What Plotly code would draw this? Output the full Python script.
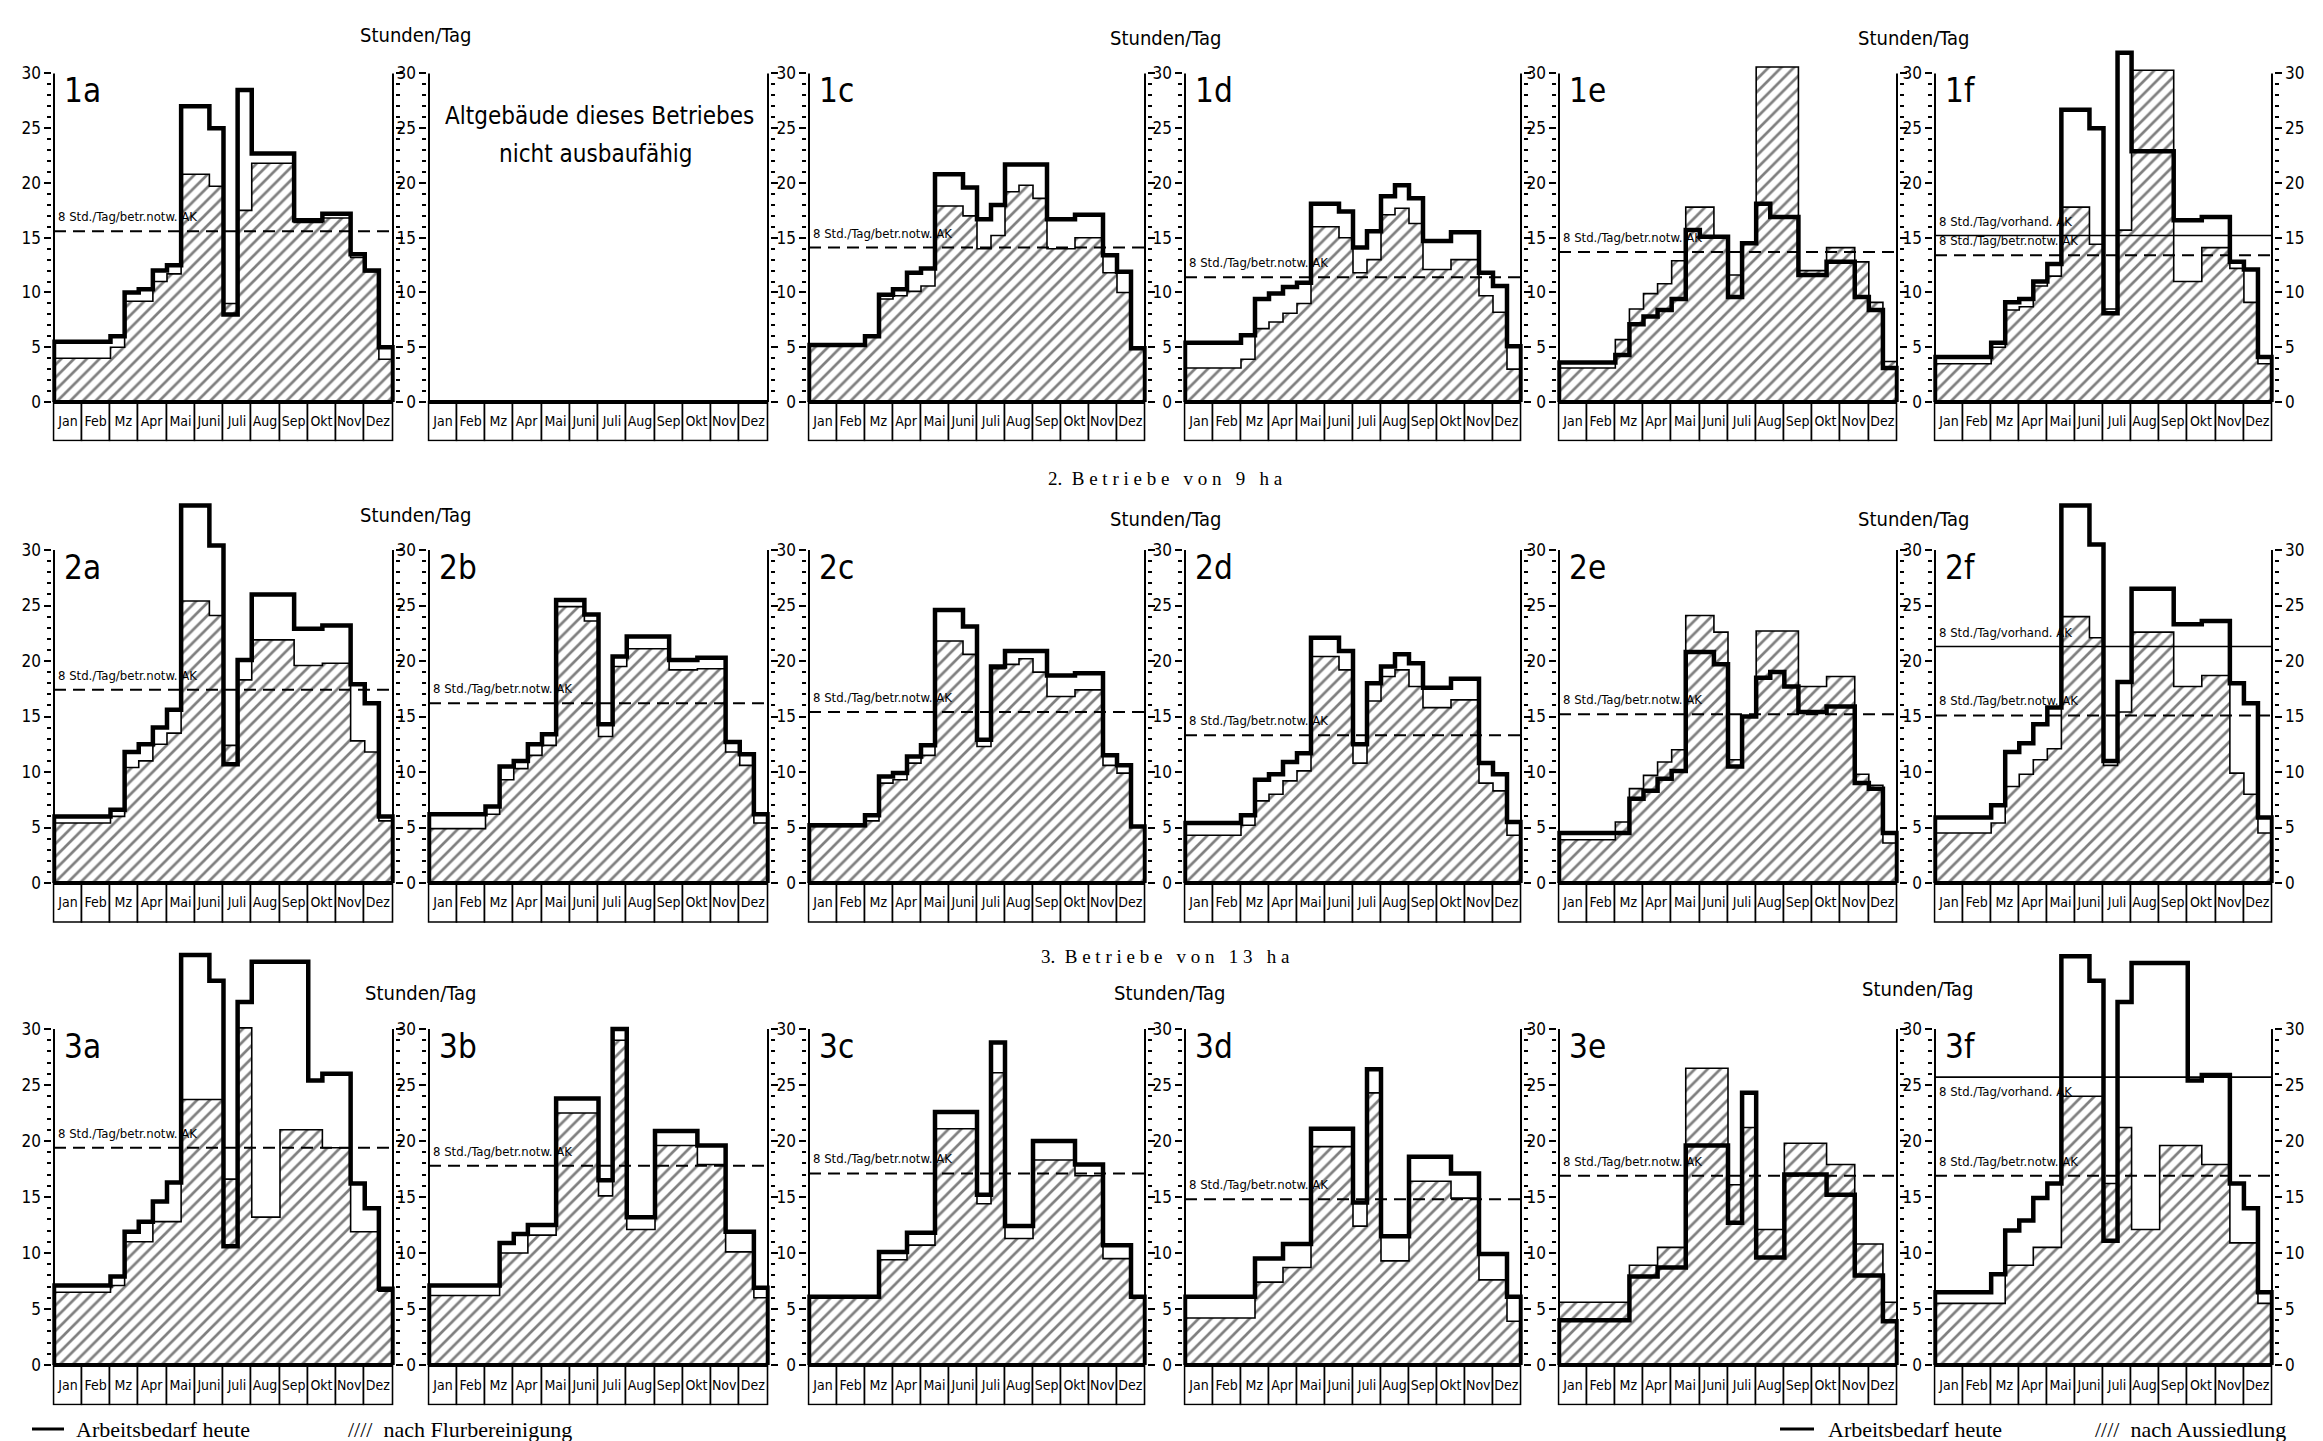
import plotly.graph_objects as go

# ---------------------------------------------------------------- data
MONTHS = ["Jan", "Feb", "Mz", "Apr", "Mai", "Juni", "Juli", "Aug", "Sep", "Okt", "Nov", "Dez"]
PANEL_IDS = ["1a", "1b", "1c", "1d", "1e", "1f",
             "2a", "2b", "2c", "2d", "2e", "2f",
             "3a", "3b", "3c", "3d", "3e", "3f"]

# Stunden/Tag per half month (Jan 1st half ... Dez 2nd half)
heute_1a = [5.5, 5.5, 5.5, 5.5, 6, 10, 10.3, 12, 12.5, 27, 27, 25, 8, 28.5, 22.7, 22.7, 22.7, 16.6, 16.6, 17.2, 17.2, 13.5, 12, 5]
nach_1a = [4, 4, 4, 4, 5, 9.2, 9.2, 11, 11.7, 20.8, 20.8, 19.7, 9, 17.5, 21.8, 21.8, 21.8, 16.4, 16.4, 16.8, 16.8, 13.2, 11.9, 3.9]
heute_1c = [5.2, 5.2, 5.2, 5.2, 6, 9.8, 10.3, 11.8, 12.2, 20.8, 20.8, 19.6, 16.7, 18, 21.7, 21.7, 21.7, 16.7, 16.7, 17.1, 17.1, 13.4, 11.9, 4.9]
nach_1c = [5.2, 5.2, 5.2, 5.2, 6, 9.4, 9.7, 10.1, 10.6, 17.9, 17.9, 17, 14, 15.2, 19.2, 19.8, 18.6, 14, 14, 15, 15, 11.8, 10, 4.9]
heute_1d = [5.4, 5.4, 5.4, 5.4, 6.1, 9.4, 9.9, 10.5, 10.9, 18.1, 18.1, 17.4, 14.1, 15.6, 18.8, 19.8, 18.6, 14.7, 14.7, 15.5, 15.5, 11.8, 10.6, 5.1]
nach_1d = [3.1, 3.1, 3.1, 3.1, 3.9, 6.7, 7.3, 8.1, 9, 16, 16, 15, 11.8, 13, 17.1, 17.7, 16.3, 12.1, 12.1, 13, 13, 9.7, 8.2, 3]
heute_1e = [3.6, 3.6, 3.6, 3.6, 4.3, 7.1, 7.8, 8.4, 9.4, 15.7, 15.1, 15.1, 9.6, 14.5, 18.1, 16.9, 16.9, 11.6, 11.6, 12.8, 12.8, 9.6, 8.4, 3.1]
nach_1e = [3.1, 3.1, 3.1, 3.1, 5.7, 8.5, 9.9, 10.8, 12.9, 17.8, 17.8, 15.1, 11.6, 14.5, 30.6, 30.6, 30.6, 12, 12, 14.1, 14.1, 12.8, 9.1, 3.7]
heute_1f = [4.1, 4.1, 4.1, 4.1, 5.4, 9.1, 9.4, 11, 12.6, 26.7, 26.7, 25, 8.1, 31.9, 22.9, 22.9, 22.9, 16.6, 16.6, 16.9, 16.9, 12.8, 12.1, 4.1]
nach_1f = [3.5, 3.5, 3.5, 3.5, 5, 8.4, 8.7, 10.6, 11.5, 17.8, 17.8, 14.4, 8.5, 15.7, 30.3, 30.3, 30.3, 11, 11, 14.1, 14.1, 12.2, 9.1, 3.5]

heute_2a = [6, 6, 6, 6, 6.6, 11.8, 12.5, 14, 15.6, 34, 34, 30.4, 10.7, 20.1, 26, 26, 26, 22.9, 22.9, 23.2, 23.2, 17.9, 16.2, 6]
nach_2a = [5.4, 5.4, 5.4, 5.4, 6, 10.4, 11, 12.5, 13.5, 25.4, 25.4, 24.1, 12.4, 18.3, 21.9, 21.9, 21.9, 19.6, 19.6, 19.8, 19.8, 12.8, 11.8, 5.6]
heute_2b = [6.2, 6.2, 6.2, 6.2, 6.9, 10.5, 11, 12.5, 13.4, 25.5, 25.5, 24.2, 14.3, 20.4, 22.2, 22.2, 22.2, 20.1, 20.1, 20.3, 20.3, 12.7, 11.6, 6.2]
nach_2b = [4.9, 4.9, 4.9, 4.9, 6.2, 9.3, 10.3, 11.5, 12.4, 24.9, 24.9, 23.6, 13.2, 19.5, 21.1, 21.1, 21.1, 19.2, 19.2, 19.3, 19.3, 11.8, 10.6, 5.4]
heute_2c = [5.2, 5.2, 5.2, 5.2, 6.1, 9.6, 9.9, 11.4, 12.4, 24.6, 24.6, 23.1, 12.9, 19.5, 20.9, 20.9, 20.9, 18.7, 18.7, 18.9, 18.9, 11.5, 10.6, 5.1]
nach_2c = [5.1, 5.1, 5.1, 5.1, 5.6, 9, 9.3, 10.8, 11.5, 21.8, 21.8, 20.6, 12.3, 19.3, 19.7, 20.2, 19, 16.8, 16.8, 17.4, 17.4, 10.6, 9.9, 5.1]
heute_2d = [5.4, 5.4, 5.4, 5.4, 6.1, 9.3, 9.8, 10.9, 11.7, 22.1, 22.1, 20.9, 12.5, 18, 19.5, 20.6, 19.8, 17.6, 17.6, 18.4, 18.4, 10.8, 9.8, 5.5]
nach_2d = [4.3, 4.3, 4.3, 4.3, 5.2, 7.4, 8, 9.2, 10.1, 20.4, 20.4, 19.2, 10.8, 16.4, 18.6, 19.2, 17.7, 15.8, 15.8, 16.5, 16.5, 9, 8.3, 4.3]
heute_2e = [4.5, 4.5, 4.5, 4.5, 4.5, 7.6, 8.3, 9.4, 10.1, 20.8, 20.8, 19.7, 10.5, 15, 18.5, 19, 17.7, 15.4, 15.4, 15.9, 15.9, 9, 8.5, 4.5]
nach_2e = [3.9, 3.9, 3.9, 3.9, 5.5, 8.5, 9.7, 10.9, 12, 24.1, 24.1, 22.6, 11.1, 15, 22.7, 22.7, 22.7, 17.7, 17.7, 18.6, 18.6, 9.8, 8.8, 3.6]
heute_2f = [5.9, 5.9, 5.9, 5.9, 7, 11.8, 12.6, 14.3, 15.8, 34, 34, 30.5, 11, 18.1, 26.5, 26.5, 26.5, 23.3, 23.3, 23.6, 23.6, 18, 16.2, 5.9]
nach_2f = [4.5, 4.5, 4.5, 4.5, 5.4, 8.7, 9.8, 11.1, 12.1, 24, 24, 22.1, 10.6, 15.4, 22.6, 22.6, 22.6, 17.7, 17.7, 18.7, 18.7, 9.9, 8, 4.5]

heute_3a = [7.1, 7.1, 7.1, 7.1, 7.9, 11.9, 12.8, 14.6, 16.3, 36.6, 36.6, 34.3, 10.6, 32.4, 36, 36, 36, 36, 25.4, 26, 26, 16.2, 14, 6.8]
nach_3a = [6.5, 6.5, 6.5, 6.5, 7.1, 11, 11, 12.8, 12.8, 23.7, 23.7, 23.7, 16.6, 30.1, 13.2, 13.2, 21, 21, 21, 19.4, 19.4, 11.9, 11.9, 6.6]
heute_3b = [7.1, 7.1, 7.1, 7.1, 7.1, 10.9, 11.7, 12.5, 12.5, 23.8, 23.8, 23.8, 16.5, 30, 13.2, 13.2, 20.9, 20.9, 20.9, 19.6, 19.6, 11.9, 11.9, 6.9]
nach_3b = [6.2, 6.2, 6.2, 6.2, 6.2, 10, 10, 11.6, 11.6, 22.5, 22.5, 22.5, 15.1, 29, 12.1, 12.1, 19.6, 19.6, 19.6, 17.9, 17.9, 10.1, 10.1, 6]
heute_3c = [6.1, 6.1, 6.1, 6.1, 6.1, 10.1, 10.1, 11.8, 11.8, 22.6, 22.6, 22.6, 15.2, 28.8, 12.4, 12.4, 20, 20, 20, 17.9, 17.9, 10.7, 10.7, 6.1]
nach_3c = [6, 6, 6, 6, 6, 9.4, 9.4, 10.7, 10.7, 21.1, 21.1, 21.1, 14.4, 26.1, 11.3, 11.3, 18.3, 18.3, 18.3, 16.9, 16.9, 9.5, 9.5, 6]
heute_3d = [6.1, 6.1, 6.1, 6.1, 6.1, 9.5, 9.5, 10.8, 10.8, 21.1, 21.1, 21.1, 14.5, 26.4, 11.5, 11.5, 18.6, 18.6, 18.6, 17.1, 17.1, 9.9, 9.9, 6.1]
nach_3d = [4.2, 4.2, 4.2, 4.2, 4.2, 7.4, 7.4, 8.7, 8.7, 19.5, 19.5, 19.5, 12.4, 24.3, 9.3, 9.3, 16.4, 16.4, 16.4, 14.9, 14.9, 7.6, 7.6, 3.9]
heute_3e = [4, 4, 4, 4, 4, 7.9, 7.9, 8.7, 8.7, 19.6, 19.6, 19.6, 12.7, 24.3, 9.6, 9.6, 17, 17, 17, 15.2, 15.2, 8, 8, 3.9]
nach_3e = [5.6, 5.6, 5.6, 5.6, 5.6, 8.9, 8.9, 10.5, 10.5, 26.5, 26.5, 26.5, 16.1, 21.2, 12.1, 12.1, 19.8, 19.8, 19.8, 17.9, 17.9, 10.8, 10.8, 5.6]
heute_3f = [6.5, 6.5, 6.5, 6.5, 8.1, 12, 12.9, 14.9, 16.2, 36.5, 36.5, 34.3, 11.1, 32.4, 35.9, 35.9, 35.9, 35.9, 25.4, 25.9, 25.9, 16.2, 14, 6.5]
nach_3f = [5.5, 5.5, 5.5, 5.5, 5.5, 8.9, 8.9, 10.5, 10.5, 24, 24, 24, 16.2, 21.2, 12.1, 12.1, 19.6, 19.6, 19.6, 17.9, 17.9, 10.9, 10.9, 5.5]

# 8 Std/Tag je betriebsnotwendige AK (dashed) and je vorhandene AK (solid)
notw_ids = ["1a", "1c", "1d", "1e", "1f", "2a", "2b", "2c", "2d", "2e", "2f", "3a", "3b", "3c", "3d", "3e", "3f"]
notw_vals = [15.6, 14.1, 11.4, 13.7, 13.4, 17.4, 16.2, 15.4, 13.3, 15.2, 15.1, 19.4, 17.8, 17.1, 14.8, 16.9, 16.9]
vorhand_ids = ["1f", "2f", "3f"]
vorhand_vals = [15.2, 21.3, 25.7]
vorhand_label_below = ["3f"]
Y_TICKS = [0, 5, 10, 15, 20, 25, 30]

HEUTE = {"1a": heute_1a, "1c": heute_1c, "1d": heute_1d, "1e": heute_1e, "1f": heute_1f,
         "2a": heute_2a, "2b": heute_2b, "2c": heute_2c, "2d": heute_2d, "2e": heute_2e, "2f": heute_2f,
         "3a": heute_3a, "3b": heute_3b, "3c": heute_3c, "3d": heute_3d, "3e": heute_3e, "3f": heute_3f}
NACH = {"1a": nach_1a, "1c": nach_1c, "1d": nach_1d, "1e": nach_1e, "1f": nach_1f,
        "2a": nach_2a, "2b": nach_2b, "2c": nach_2c, "2d": nach_2d, "2e": nach_2e, "2f": nach_2f,
        "3a": nach_3a, "3b": nach_3b, "3c": nach_3c, "3d": nach_3d, "3e": nach_3e, "3f": nach_3f}
NOTW = dict(zip(notw_ids, notw_vals))
VORHAND = dict(zip(vorhand_ids, vorhand_vals))

# ---------------------------------------------------------------- layout geometry
W, H = 2323, 1441
COL_LEFT = [46, 421, 801, 1177, 1551, 1927]
COL_RIGHT = [385, 760, 1137, 1513, 1889, 2264]
ROW_BASE = [394, 875, 1357]
PX_PER_UNIT = [10.95, 11.1, 11.2]
Y_TOP = [34.5, 36.5, 38.0]
BOX = 3.6
XPAD = 0.06

NARROW = ("Liberation Sans Narrow, DejaVu Sans Condensed, Roboto Condensed, Noto Sans Condensed, "
          "Arial Narrow, Liberation Sans, sans-serif")
SERIF = "Liberation Serif, DejaVu Serif, serif"

fig = go.Figure()
layout = {}
shapes = []
annotations = []

half_x = [i * 0.5 for i in range(24)]


def step_xy(vals):
    return [0.0] + half_x + [12.0], [0.0] + list(vals) + [0.0]


def paper_text(txt, px, py, size, family, xanchor="center"):
    annotations.append(dict(x=px / W, y=1 - py / H, xref="paper", yref="paper",
                            xanchor=xanchor, yanchor="middle", text=txt, showarrow=False,
                            font=dict(family=family, size=size, color="black")))


for p, pid in enumerate(PANEL_IDS):
    r, c = divmod(p, 6)
    xa = "x" if p == 0 else f"x{p + 1}"
    yan = 2 * p + 1
    ybn = 2 * p + 2
    ya = "y" if yan == 1 else f"y{yan}"
    yb = f"y{ybn}"
    L, R = COL_LEFT[c], COL_RIGHT[c]
    ppm = (R - L) / 12.0
    base = ROW_BASE[r]
    k = PX_PER_UNIT[r]
    top_px = base - Y_TOP[r] * k
    bot_px = base + BOX * k
    xdom = [(L - XPAD * ppm) / W, (R + XPAD * ppm) / W]
    ydom = [1 - bot_px / H, 1 - top_px / H]
    yrange = [-BOX, Y_TOP[r]]

    layout["xaxis" if p == 0 else f"xaxis{p + 1}"] = dict(
        domain=xdom, range=[-XPAD, 12 + XPAD], visible=False, anchor=ya, fixedrange=True)
    common = dict(range=yrange, tickvals=Y_TICKS, ticktext=[str(v) for v in Y_TICKS],
                  ticks="outside", ticklen=7, tickwidth=2, tickcolor="black",
                  minor=dict(tickvals=list(range(0, 31)), ticks="outside", ticklen=4,
                             tickwidth=1.5, tickcolor="black"),
                  showgrid=False, zeroline=False, showline=False, fixedrange=True,
                  tickfont=dict(family=NARROW, size=17, color="black"))
    layout["yaxis" if yan == 1 else f"yaxis{yan}"] = dict(domain=ydom, anchor=xa, side="left", **common)
    layout[f"yaxis{ybn}"] = dict(anchor=xa, overlaying=ya, side="right",
                                 showticklabels=(c == 5), **common)

    # month boxes with labels
    fig.add_trace(go.Bar(
        x=[i + 0.5 for i in range(12)], y=[BOX] * 12, base=[-BOX] * 12, width=1,
        marker=dict(color="white", line=dict(color="black", width=1.6)),
        text=MONTHS, textposition="inside", insidetextanchor="middle", textangle=0,
        constraintext="none", textfont=dict(family=NARROW, size=14, color="black"),
        hoverinfo="skip", showlegend=False, xaxis=xa, yaxis=ya))

    if pid in NACH:
        xs, ys = step_xy(NACH[pid])
        fig.add_trace(go.Scatter(
            x=xs, y=ys, mode="lines", line=dict(shape="hv", color="black", width=1.6),
            fill="toself", fillcolor="white",
            fillpattern=dict(shape="/", fgcolor="black", bgcolor="white", size=9, solidity=0.3),
            hoverinfo="skip", showlegend=False, xaxis=xa, yaxis=ya))
        xs, ys = step_xy(HEUTE[pid])
        fig.add_trace(go.Scatter(
            x=xs, y=ys, mode="lines", line=dict(shape="hv", color="black", width=4.5),
            hoverinfo="skip", showlegend=False, xaxis=xa, yaxis=ya))

    # dummy trace so the right axis is drawn
    fig.add_trace(go.Scatter(x=[0], y=[-50], mode="markers", marker=dict(opacity=0),
                             hoverinfo="skip", showlegend=False, xaxis=xa, yaxis=yb))

    # axis lines and base line
    shapes.append(dict(type="line", xref=xa, yref=ya, x0=0, x1=0, y0=0, y1=30,
                       line=dict(color="black", width=2)))
    shapes.append(dict(type="line", xref=xa, yref=ya, x0=12, x1=12, y0=0, y1=30,
                       line=dict(color="black", width=2)))
    shapes.append(dict(type="line", xref=xa, yref=ya, x0=0, x1=12, y0=0, y1=0,
                       line=dict(color="black", width=4)))

    if pid in NOTW:
        lv = NOTW[pid]
        shapes.append(dict(type="line", xref=xa, yref=ya, x0=0, x1=12, y0=lv, y1=lv,
                           line=dict(color="black", width=2, dash="12px,7px")))
        annotations.append(dict(x=0.08, y=lv + 0.45, xref=xa, yref=ya, xanchor="left", yanchor="bottom",
                                text="8 Std./Tag/betr.notw. AK", showarrow=False,
                                font=dict(family=NARROW, size=13, color="black")))
    if pid in VORHAND:
        lv = VORHAND[pid]
        shapes.append(dict(type="line", xref=xa, yref=ya, x0=0, x1=12, y0=lv, y1=lv,
                           line=dict(color="black", width=1.6)))
        below = pid in vorhand_label_below
        annotations.append(dict(x=0.08, y=lv - 0.45 if below else lv + 0.45, xref=xa, yref=ya,
                                xanchor="left", yanchor="top" if below else "bottom",
                                text="8 Std./Tag/vorhand. AK", showarrow=False,
                                font=dict(family=NARROW, size=13, color="black")))
    if pid != "1b":
        annotations.append(dict(x=0.3, y=30.4, xref=xa, yref=ya, xanchor="left", yanchor="top",
                                text=pid, showarrow=False,
                                font=dict(family=NARROW, size=33, color="black")))

# empty panel 1b text
paper_text("Altgebäude dieses Betriebes", 591, 108, 24, NARROW)
paper_text("nicht ausbaufähig", 588, 146, 24, NARROW)

# "Stunden/Tag" labels
for (px, py) in [(407, 27), (1157, 30), (1905, 30), (407, 507), (1157, 511), (1905, 511),
                 (413, 985), (1161, 985), (1909, 981)]:
    paper_text("Stunden/Tag", px, py, 20, NARROW)

# section titles
paper_text("2.  B e t r i e b e   v o n   9   h a", 1157, 471, 19, SERIF)
paper_text("3.  B e t r i e b e   v o n   1 3   h a", 1157, 948, 19, SERIF)

# legends
LEG_Y = 1421
for (x0, x1) in [(24, 56), (1772, 1806)]:
    shapes.append(dict(type="line", xref="paper", yref="paper", x0=x0 / W, x1=x1 / W,
                       y0=1 - LEG_Y / H, y1=1 - LEG_Y / H, line=dict(color="black", width=3)))
paper_text("Arbeitsbedarf heute", 66, LEG_Y, 22, SERIF, "left")
paper_text("////  nach Flurbereinigung", 338, LEG_Y, 22, SERIF, "left")
paper_text("Arbeitsbedarf heute", 1818, LEG_Y, 22, SERIF, "left")
paper_text("////  nach Aussiedlung", 2085, LEG_Y, 22, SERIF, "left")

fig.update_layout(
    width=W, height=H, margin=dict(l=0, r=0, t=0, b=0),
    paper_bgcolor="white", plot_bgcolor="rgba(0,0,0,0)",
    showlegend=False, bargap=0, shapes=shapes, annotations=annotations, **layout)

fig.write_html("out.html")
